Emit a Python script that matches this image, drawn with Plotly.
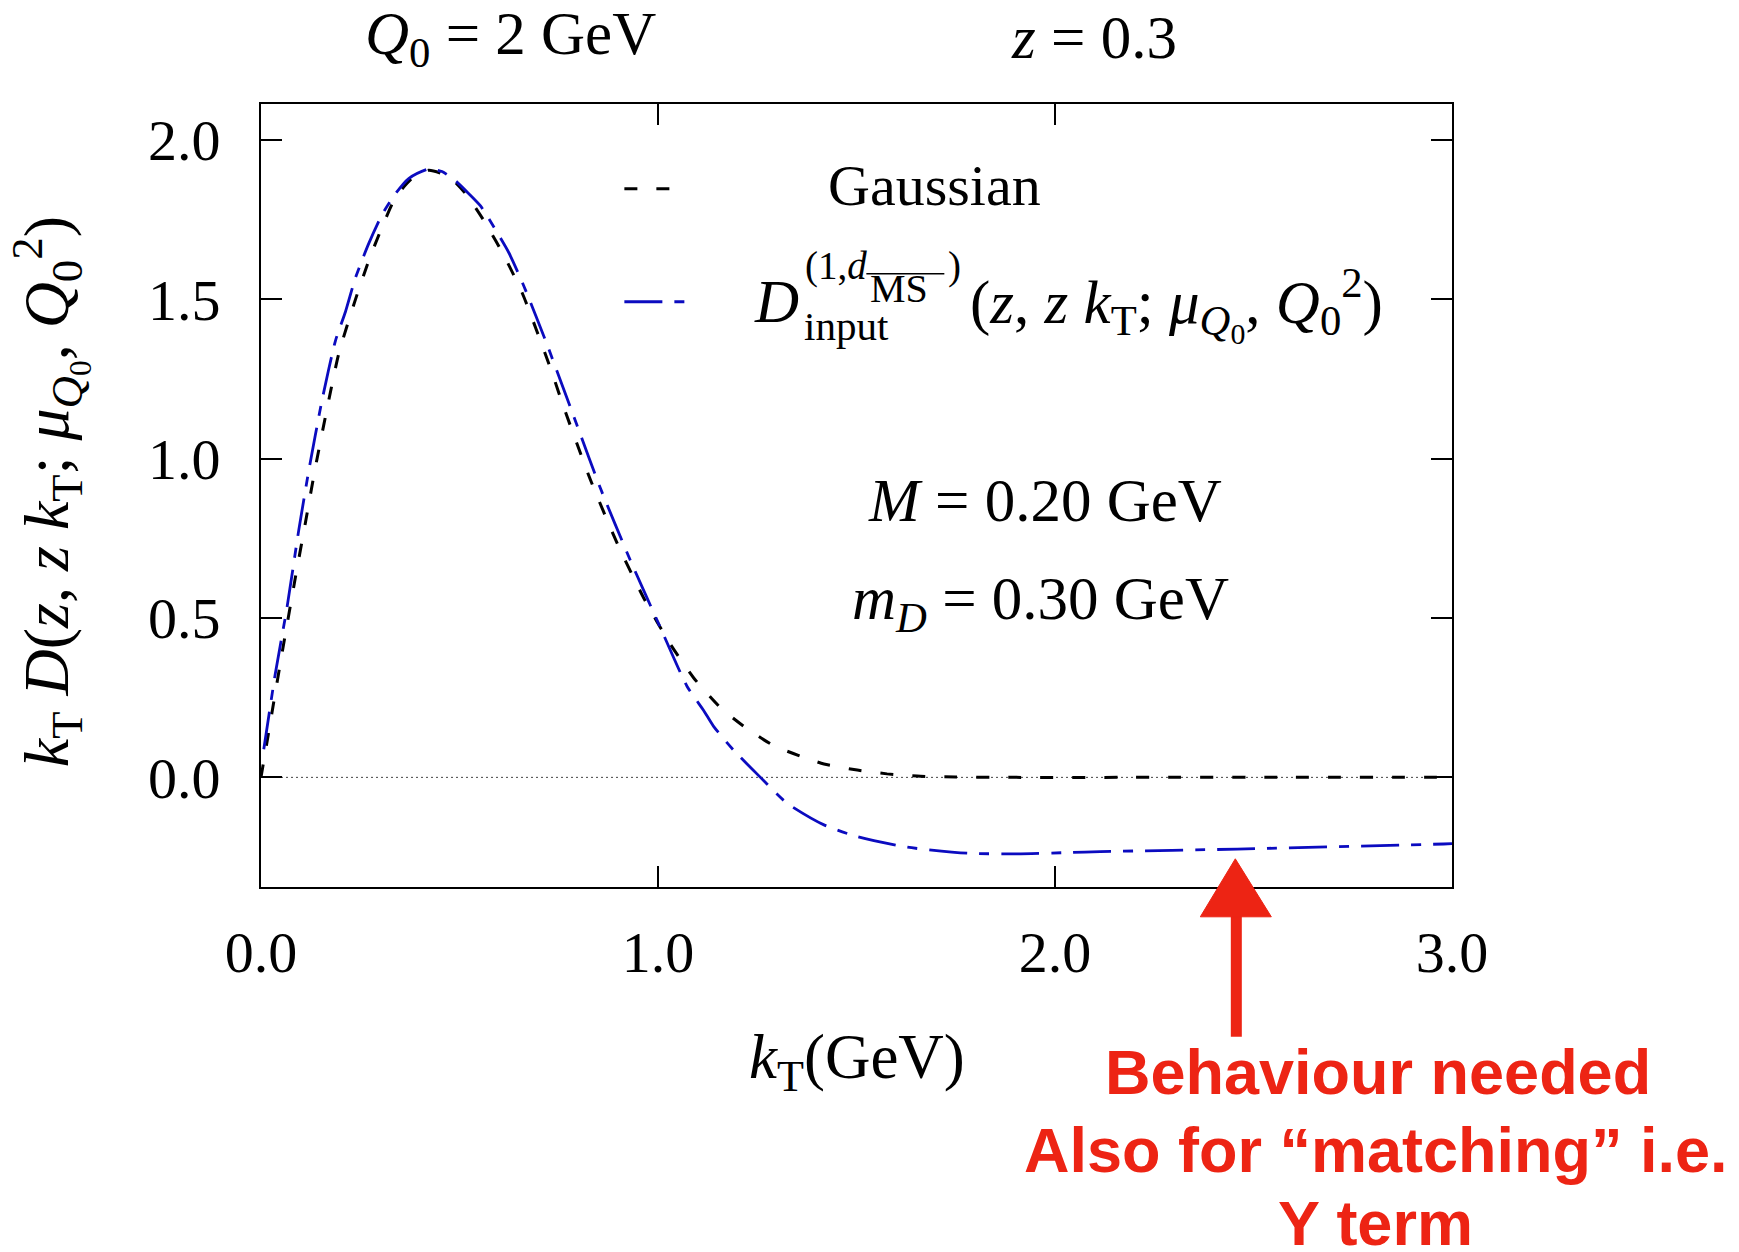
import plotly.graph_objects as go

# Gaussian model: k_T * D as a function of k_T (GeV)
kt_gauss = [0.0, 0.028, 0.053, 0.087, 0.112, 0.137, 0.162, 0.196, 0.238, 0.271,
            0.305, 0.339, 0.38, 0.422, 0.473, 0.515, 0.565, 0.615, 0.658, 0.695,
            0.733, 0.763, 0.83, 0.897, 0.964, 1.031, 1.09, 1.157, 1.224, 1.291,
            1.358, 1.418, 1.502, 1.577, 1.653, 1.75, 1.9, 2.2, 2.6, 3.0]
val_gauss = [0.0, 0.206, 0.39, 0.63, 0.80, 0.973, 1.13, 1.33, 1.50, 1.62,
             1.727, 1.82, 1.879, 1.905, 1.885, 1.832, 1.74, 1.63, 1.52, 1.40,
             1.27, 1.16, 0.933, 0.735, 0.563, 0.418, 0.312, 0.219, 0.153, 0.10,
             0.067, 0.042, 0.023, 0.011, 0.004, 0.001, 0.0, 0.0, 0.0, 0.0]

# input fragmentation function with the MSbar-type d term
kt_input = [0.007, 0.036, 0.066, 0.095, 0.120, 0.154, 0.1875, 0.213, 0.238, 0.271,
            0.305, 0.339, 0.372, 0.4225, 0.456, 0.49, 0.523, 0.553, 0.574, 0.624,
            0.662, 0.72, 0.796, 0.855, 0.93, 1.006, 1.073, 1.115, 1.14, 1.19,
            1.258, 1.325, 1.418, 1.502, 1.627, 1.779, 1.905, 2.03, 2.114, 2.459,
            2.979, 3.0]
val_input = [0.088, 0.325, 0.537, 0.775, 0.96, 1.185, 1.37, 1.462, 1.568, 1.674,
             1.766, 1.832, 1.879, 1.909, 1.901, 1.872, 1.832, 1.793, 1.753, 1.647,
             1.542, 1.36, 1.105, 0.907, 0.682, 0.47, 0.286, 0.21, 0.16, 0.086,
             0.0, -0.081, -0.149, -0.186, -0.219, -0.238, -0.24, -0.236, -0.233, -0.225,
             -0.209, -0.208]

x_tick_vals = [0.0, 1.0, 2.0, 3.0]
x_tick_text = ["0.0", "1.0", "2.0", "3.0"]
y_tick_vals = [0.0, 0.5, 1.0, 1.5, 2.0]
y_tick_text = ["0.0", "0.5", "1.0", "1.5", "2.0"]

W, H = 1739, 1252
L, R, T, B = 260.6, 1451.7, 104.2, 887.2
SERIF = "Liberation Serif"
SANS = "Liberation Sans"
RED = "#ed2414"
BLUE = "#0b0bc0"
FS = 58
FM = 61   # math text size


def px(x, y):
    """pixel position -> paper coordinates"""
    return (x - L) / (R - L), (B - y) / (B - T)


fig = go.Figure()

fig.add_trace(go.Scatter(
    x=kt_gauss, y=val_gauss, mode="lines", name="Gaussian",
    line=dict(color="black", width=3, dash="13px,19px", shape="spline", smoothing=0.6),
    showlegend=False, hoverinfo="skip"))
fig.add_trace(go.Scatter(
    x=kt_input, y=val_input, mode="lines", name="D input",
    line=dict(color=BLUE, width=2.8, dash="38px,12px,10px,12px", shape="spline", smoothing=0.6),
    showlegend=False, hoverinfo="skip"))

shapes = []
# dotted zero line
shapes.append(dict(type="line", xref="x", yref="y", x0=0, x1=3, y0=0, y1=0,
                   line=dict(color="#444444", width=1, dash="2px,3px"), layer="below"))

# legend samples
x0, y0 = px(624, 189)
x1, _ = px(670, 189)
shapes.append(dict(type="line", xref="paper", yref="paper", x0=x0, x1=x1, y0=y0, y1=y0,
                   line=dict(color="black", width=3, dash="13px,19px")))
x0, y0 = px(624, 302)
x1, _ = px(686, 302)
shapes.append(dict(type="line", xref="paper", yref="paper", x0=x0, x1=x1, y0=y0, y1=y0,
                   line=dict(color=BLUE, width=3, dash="38px,12px,10px,12px")))

# overline on MS
x0, y0 = px(866, 274)
x1, _ = px(944, 274)
shapes.append(dict(type="line", xref="paper", yref="paper", x0=x0, x1=x1, y0=y0, y1=y0,
                   line=dict(color="black", width=1.6)))

# red arrow
sx, sy0 = px(1236, 1037)
_, sy1 = px(1236, 905)
shapes.append(dict(type="line", xref="paper", yref="paper", x0=sx, x1=sx, y0=sy0, y1=sy1,
                   line=dict(color=RED, width=11)))
tx, ty = px(1235, 859)
lx, by = px(1200, 917)
rx, _ = px(1271, 917)
shapes.append(dict(type="path", xref="paper", yref="paper",
                   path=f"M {tx},{ty} L {lx},{by} L {rx},{by} Z",
                   fillcolor=RED, line=dict(color=RED, width=1)))

annotations = []


def ann(text, x, y, size=FS, xanchor="center", yanchor="middle", color="black",
        family=SERIF, angle=0):
    ax, ay = px(x, y)
    annotations.append(dict(text=text, x=ax, y=ay, xref="paper", yref="paper",
                            xanchor=xanchor, yanchor=yanchor, showarrow=False,
                            textangle=angle,
                            font=dict(family=family, size=size, color=color)))


# header
ann("<i>Q</i><sub>0</sub> = 2 GeV", 510, 38, size=FM)
ann("<i>z</i> = 0.3", 1094, 38, size=FM)

# legend texts
ann("Gaussian", 934, 186)
ann("<i>D</i>", 752, 302, size=FM, xanchor="left")
ann("(1,<i>d</i>", 803, 266, size=39, xanchor="left")
ann("MS", 868, 289, size=40, xanchor="left")
ann(")", 946, 266, size=39, xanchor="left")
ann("input", 802, 326, size=41, xanchor="left")
ann("(<i>z</i>, <i>z k</i><sub>T</sub>; <i>μ</i><sub><i>Q</i><sub>0</sub></sub>, "
    "<i>Q</i><sub>0</sub><sup>2</sup>)", 968, 305, size=FM, xanchor="left")

# parameters
ann("<i>M</i> = 0.20 GeV", 1045, 501, size=FM)
ann("<i>m<sub>D</sub></i> = 0.30 GeV", 1040, 603, size=FM)

# axis titles
ann("<i>k</i><sub>T</sub>(GeV)", 857, 1062, size=63)
ann("<i>k</i><sub>T</sub> <i>D</i>(<i>z</i>, <i>z k</i><sub>T</sub>; <i>μ</i><sub><i>Q</i><sub>0</sub></sub>, "
    "<i>Q</i><sub>0</sub><sup>2</sup>)", 50, 492, size=64, angle=-90)

# remark under the axis
ann("<b>Behaviour needed</b>", 1378, 1072, size=63, color=RED, family=SANS)
ann("<b>Also for “matching” i.e.</b>", 1376, 1150, size=63, color=RED, family=SANS)
ann("<b>Y term</b>", 1375, 1223, size=63, color=RED, family=SANS)

axis_common = dict(
    ticks="inside", ticklen=21, tickwidth=1.5, tickcolor="black",
    showline=True, linewidth=2, linecolor="black", mirror="ticks",
    showgrid=False, zeroline=False,
    tickfont=dict(family=SERIF, size=FS, color="black"),
)

fig.update_layout(
    width=W, height=H,
    margin=dict(l=L, r=W - R, t=T, b=H - B, pad=0),
    paper_bgcolor="white", plot_bgcolor="white",
    xaxis=dict(range=[0, 3], tickmode="array", tickvals=x_tick_vals, ticktext=x_tick_text,
               ticklabelstandoff=13, **axis_common),
    yaxis=dict(range=[-0.344, 2.113], tickmode="array", tickvals=y_tick_vals,
               ticktext=y_tick_text, ticklabelstandoff=27, **axis_common),
    shapes=shapes,
    annotations=annotations,
    showlegend=False,
)

fig.write_html("out.html")
